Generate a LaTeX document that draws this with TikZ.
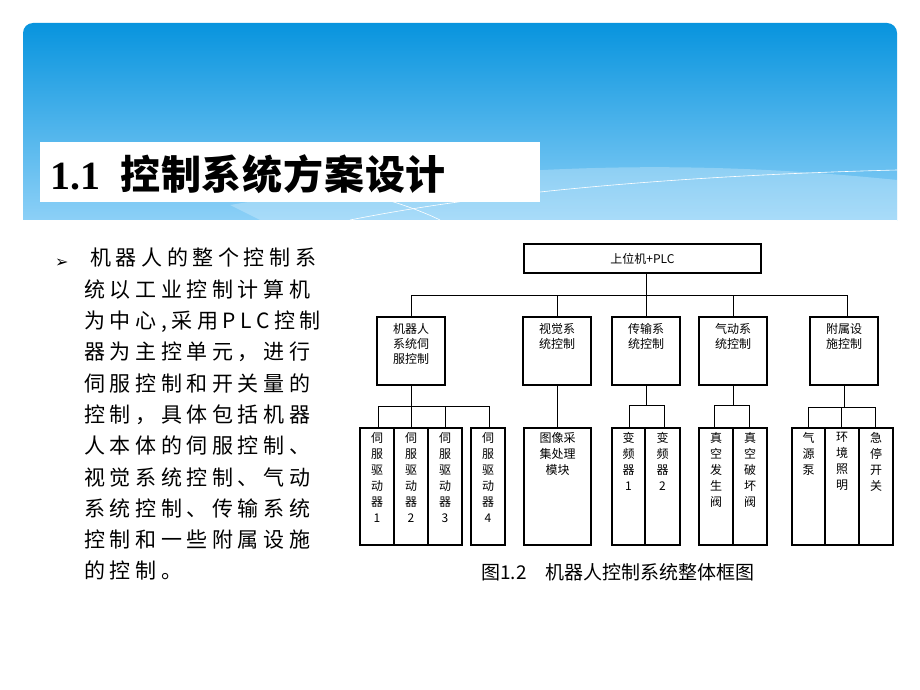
\documentclass[tikz,border=0pt]{standalone}
\usepackage{fontspec}
\newfontfamily\cjk{Noto Sans CJK SC}
\newfontfamily\dejavu{DejaVu Sans}
\begin{document}
\begin{tikzpicture}[x=1pt,y=-1pt,
  bx/.style={draw,line width=1.1pt},
  ln/.style={line width=0.9pt},
  lbl/.style={font=\cjk\fontsize{12}{15}\selectfont,align=center,anchor=north,inner sep=0pt}]
\useasboundingbox (0,0) rectangle (920,690);
\fill[white] (0,0) rectangle (920,690);
% header
\begin{scope}
\clip[rounded corners=10pt] (23,23) rectangle (897,240);
\shade[top color={rgb,255:red,8;green,148;blue,222},bottom color={rgb,255:red,140;green,208;blue,247}] (23,23) rectangle (897,220);
\fill[white] (23,220) rectangle (897,240);
\fill[white,opacity=0.25] (230,205) .. controls (500,160) and (700,160) .. (897,180) -- (897,220) -- (260,220) -- cycle;
\draw[white,line width=0.6pt] (300,178) .. controls (380,195) and (420,210) .. (440,220);
\draw[white,line width=0.6pt] (350,220) .. controls (500,190) and (700,175) .. (897,170);
\end{scope}
\fill[white] (40,142) rectangle (540,202);
\node[anchor=west,font=\cjk\bfseries\fontsize{40}{40}\selectfont,inner sep=0pt] (title) at (50,174) {\fontspec{Liberation Serif}1.1\ \ \cjk\addfontfeature{LetterSpace=2}控制系统方案设计};
% left text
\node[anchor=west,font=\dejavu\fontsize{16}{16}\selectfont,inner sep=0pt] (bul) at (55,263) {➢};
\node[anchor=north west,font=\cjk\fontsize{21}{31.3}\selectfont\addfontfeature{LetterSpace=22},align=left,inner sep=0pt] (txt) at (84,248)
{\hspace{6pt}机器人的整个控制系\\统以工业控制计算机\\为中心,采用PLC控制\\器为主控单元，进行\\伺服控制和开关量的\\控制，具体包括机器\\人本体的伺服控制、\\视觉系统控制、气动\\系统控制、传输系统\\控制和一些附属设施\\的控制。};
% diagram
\node[bx,minimum width=237,minimum height=29,font=\cjk\fontsize{12}{12}\selectfont] (top) at (642.5,258.5) {上位机+PLC};
\draw[ln] (646,273) -- (646,295);
\draw[ln] (411,317) -- (411,295) -- (847,295) -- (847,317);
\foreach \x in {557,733} \draw[ln] (\x,295) -- (\x,317);
\draw[ln] (646,295) -- (646,317);
\foreach \n/\x/\t in {a/411/机器人\\系统伺\\服控制, b/557/视觉系\\统控制, c/646/传输系\\统控制, d/733/气动系\\统控制, e/844/附属设\\施控制}{
  \draw[bx] (\x-34,317) rectangle (\x+34,385);
  \node[lbl] (\n) at (\x,323) {\t};
}
% level 3 buses
\draw[ln] (411,385) -- (411,406);
\draw[ln] (378,428) -- (378,406) -- (489,406) -- (489,428);
\foreach \x in {411,445} \draw[ln] (\x,406) -- (\x,428);
\draw[ln] (557,385) -- (557,428);
\draw[ln] (646,385) -- (646,405);
\draw[ln] (629,428) -- (629,405) -- (664,405) -- (664,428);
\draw[ln] (733,385) -- (733,405);
\draw[ln] (714,428) -- (714,405) -- (749,405) -- (749,428);
\draw[ln] (844,385) -- (844,407);
\draw[ln] (808,428) -- (808,407) -- (875,407) -- (875,428);
\draw[ln] (841,407) -- (841,428);
% level 3 boxes
\foreach \n/\a/\b/\t in {s1/360/394/伺\\服\\驱\\动\\器\\1, s2/394/428/伺\\服\\驱\\动\\器\\2, s3/428/462/伺\\服\\驱\\动\\器\\3, s4/471/505/伺\\服\\驱\\动\\器\\4,
  im/524/591/图像采\\集处理\\模块, f1/612/645/变\\频\\器\\1, f2/645/680/变\\频\\器\\2,
  v1/699/733/真\\空\\发\\生\\阀, v2/733/767/真\\空\\破\\坏\\阀,
  g1/792/825/气\\源\\泵, g2/825/859/环\\境\\照\\明, g3/859/893/急\\停\\开\\关}{
  \draw[bx] (\a,428) rectangle (\b,545);
  \node[lbl,font=\cjk\fontsize{12}{16}\selectfont] (\n) at ({(\a+\b)/2},432) {\t};
}
\node[anchor=west,font=\cjk\fontsize{19}{19}\selectfont,inner sep=0pt] (cap) at (481,572) {图1.2\quad 机器人控制系统整体框图};
\end{tikzpicture}
\end{document}
